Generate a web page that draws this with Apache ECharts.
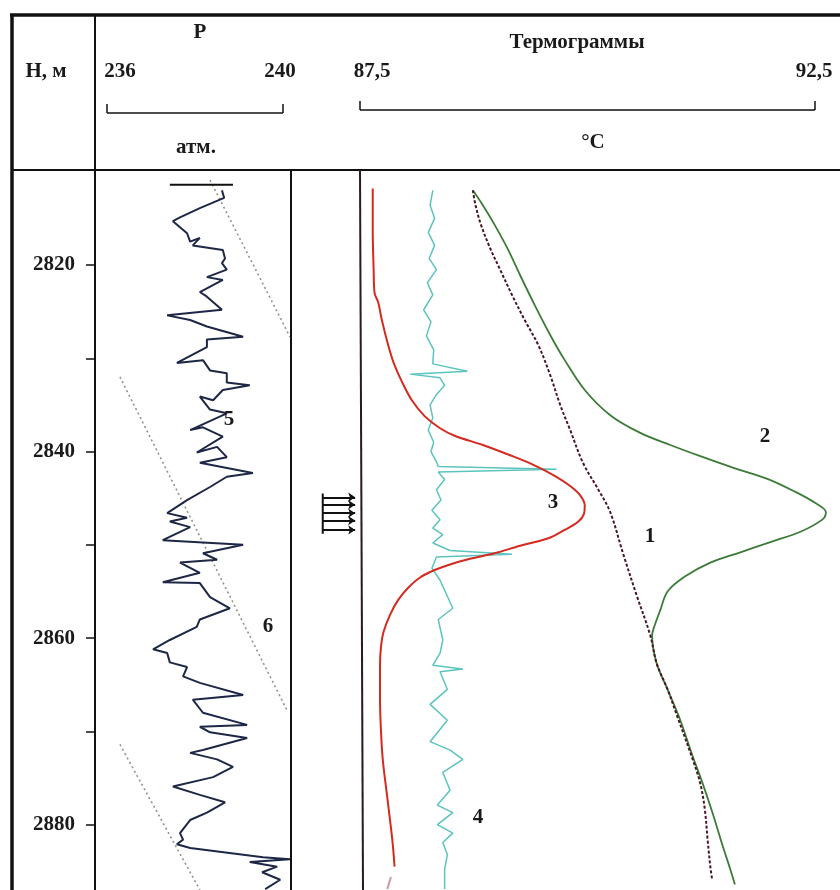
<!DOCTYPE html>
<html><head><meta charset="utf-8">
<script src="https://cdn.jsdelivr.net/npm/echarts@6/dist/echarts.min.js"></script>
<style>html,body{margin:0;padding:0;background:#fff}#c{width:840px;height:890px}</style>
</head><body><div id="c"></div>
<script>
// ---------- data ----------
const depthLabels = [2820, 2840, 2860, 2880];
const depthTicks = [2820, 2830, 2840, 2850, 2860, 2870, 2880];
const pScaleLabels = ['236', '240'];
const tScaleLabels = ['87,5', '92,5'];

// Curve 5 : pressure P, atm
const pDepth = [2812.0,2812.8,2813.9,2814.9,2815.3,2816.6,2817.5,2817.1,2817.9,2818.4,2819.3,2819.8,2820.5,2821.3,2821.6,2822.9,2823.4,2824.8,2825.4,2825.9,2826.6,2827.7,2828.0,2828.8,2830.5,2830.2,2831.3,2831.6,2832.6,2832.9,2833.4,2834.5,2834.1,2835.5,2835.9,2837.7,2837.4,2838.4,2840.1,2839.5,2840.6,2841.2,2842.3,2842.7,2843.8,2845.2,2846.6,2847.1,2847.5,2848.1,2849.5,2850.0,2850.9,2851.6,2851.9,2853.0,2854.0,2854.1,2855.6,2856.8,2858.0,2858.8,2860.2,2861.2,2861.6,2862.6,2863.1,2864.1,2864.8,2866.1,2866.6,2868.0,2869.3,2869.5,2870.1,2870.7,2872.0,2872.3,2873.0,2873.8,2874.9,2875.9,2876.8,2877.6,2878.7,2879.5,2880.9,2881.6,2882.1,2882.5,2883.5,2883.7,2884.0,2884.5,2885.1,2885.9,2886.9];
const pValue = [238.61,238.66,238.11,237.66,237.50,237.82,237.89,238.11,237.95,238.63,238.68,238.61,238.72,238.27,238.63,238.11,238.27,238.61,237.37,237.89,238.27,239.09,238.27,238.27,237.59,238.18,238.34,238.72,238.72,239.24,238.63,238.41,238.11,238.34,238.72,237.89,238.18,238.63,238.04,238.50,238.72,238.11,239.31,238.72,238.34,237.82,237.37,237.82,237.43,237.89,237.27,239.09,238.18,238.50,237.66,238.11,237.27,238.11,238.34,238.79,238.11,238.04,237.43,237.05,237.37,237.43,237.82,237.73,238.11,239.09,237.95,238.18,239.18,238.11,238.34,239.18,238.18,237.89,238.50,238.86,238.41,237.50,238.11,238.68,238.27,237.89,237.66,237.73,237.59,237.89,239.54,240.15,239.24,239.86,239.52,239.93,239.59];
// short mark at top of P track
const pMarkDepth = [2811.4, 2811.4];
const pMarkValue = [237.43, 238.86];
// Lines 6 : pressure trend lines (depth, P)
const trendA = {depth:[2810.9, 2827.7], p:[238.34, 240.15]};
const trendB = {depth:[2832.0, 2867.7], p:[236.30, 240.08]};
const trendC = {depth:[2871.4, 2887.0], p:[236.30, 238.11]};

// Perforation interval depths
const perfDepths = [2844.9, 2845.7, 2846.6, 2847.4, 2848.4];
const perfTop = 2844.5, perfBottom = 2848.8;

// Curve 1 : dashed thermogram, °C
const c1Depth = [2812.0,2813.6,2815.7,2818.2,2820.5,2823.2,2825.9,2828.6,2831.8,2835.0,2837.7,2841.2,2844.1,2846.5,2850.9,2855.4,2859.7,2862.7,2865.5,2868.2,2873.1,2875.6,2878.4,2881.6,2884.5,2885.9];
const c1Temp = [88.74,88.77,88.83,88.93,89.04,89.17,89.31,89.46,89.59,89.70,89.81,89.95,90.12,90.25,90.39,90.54,90.69,90.76,90.88,90.98,91.16,91.24,91.29,91.32,91.35,91.37];

// Curve 2 : green thermogram
const c2Depth = [2812.0,2813.6,2815.7,2818.4,2821.1,2824.3,2827.5,2830.2,2833.4,2836.1,2838.0,2839.3,2840.5,2841.8,2842.9,2844.3,2845.5,2846.5,2847.3,2848.6,2849.7,2850.8,2851.9,2853.4,2855.0,2857.0,2858.6,2859.7,2862.7,2865.5,2868.8,2872.5,2875.7,2878.9,2882.1,2884.8,2886.4];
const c2Temp = [88.74,88.85,88.98,89.13,89.26,89.42,89.59,89.75,89.97,90.25,90.58,90.91,91.24,91.62,91.97,92.28,92.50,92.62,92.58,92.34,92.01,91.68,91.35,91.07,90.88,90.80,90.74,90.71,90.76,90.88,91.02,91.15,91.27,91.38,91.48,91.57,91.62];

// Curve 3 : red thermogram
const c3Depth = [2811.8,2816.3,2820.5,2823.0,2824.0,2825.9,2828.6,2830.5,2832.5,2834.5,2836.2,2837.5,2838.3,2839.3,2840.4,2841.4,2842.6,2843.7,2844.7,2845.8,2846.7,2847.5,2848.4,2849.3,2850.1,2850.9,2851.5,2852.1,2852.7,2853.5,2854.6,2855.9,2857.5,2859.3,2861.0,2862.9,2866.6,2869.8,2873.0,2876.3,2879.5,2882.1,2884.5];
const c3Temp = [87.64,87.64,87.65,87.66,87.70,87.74,87.81,87.87,87.96,88.07,88.21,88.38,88.54,88.85,89.15,89.40,89.64,89.81,89.92,89.97,89.96,89.90,89.75,89.57,89.26,88.98,88.71,88.49,88.32,88.16,88.03,87.92,87.83,87.76,87.73,87.72,87.72,87.73,87.75,87.79,87.83,87.86,87.88];
const c3TailDepth = [2885.6, 2886.9];
const c3TailTemp = [87.84, 87.80];

// Curve 4 : teal thermogram
const c4Depth = [2812.0,2813.6,2815.0,2816.5,2817.9,2819.3,2820.5,2821.9,2823.2,2824.8,2826.1,2827.6,2829.1,2830.6,2831.4,2831.7,2832.1,2832.9,2833.9,2835.0,2836.4,2837.7,2839.0,2840.0,2841.1,2841.6,2841.9,2842.2,2843.0,2844.1,2845.2,2846.3,2847.3,2848.2,2848.9,2849.8,2850.6,2851.0,2851.3,2852.5,2853.8,2856.8,2858.0,2860.2,2861.6,2862.9,2863.3,2863.6,2865.5,2867.1,2868.8,2871.1,2872.0,2873.0,2874.4,2876.3,2877.9,2878.7,2880.0,2880.9,2881.9,2883.2,2884.8,2886.9];
const c4Temp = [88.30,88.27,88.32,88.25,88.32,88.26,88.34,88.24,88.30,88.20,88.28,88.23,88.31,88.30,88.68,88.05,88.38,88.43,88.34,88.27,88.30,88.25,88.31,88.28,88.34,88.36,89.66,88.36,88.43,88.34,88.39,88.29,88.38,88.30,88.41,88.30,88.49,89.17,88.34,88.29,88.38,88.52,88.36,88.41,88.38,88.30,88.63,88.38,88.46,88.27,88.46,88.27,88.49,88.63,88.41,88.49,88.35,88.52,88.35,88.52,88.41,88.46,88.43,88.43];

// ---------- helpers ----------
const zip = (xs, ys) => xs.map((x, i) => [x, ys[i]]);
const SERIF = '"Liberation Serif", "DejaVu Serif", serif';
const FS = 21;

const depthMin = 2810, depthMax = 2887;
const gridTop = 171.7, gridH = 718.3;

function yAx(gi, show) {
  return {
    type: 'value', gridIndex: gi, inverse: true, min: depthMin, max: depthMax,
    axisLine: {show: false}, splitLine: {show: false},
    axisTick: {show: show, inside: false, length: 10, customValues: depthTicks, lineStyle: {color: '#111', width: 1.5}},
    axisLabel: {show: show, margin: 21, customValues: depthLabels, fontFamily: SERIF, fontWeight: 'bold', fontSize: FS, color: '#1a1a1a',
      formatter: v => String(v)}
  };
}
function xAx(gi, min, max) {
  return {type: 'value', gridIndex: gi, min: min, max: max, show: false, splitLine: {show: false}};
}
function lineS(data, xi, color, width, extra) {
  return Object.assign({
    type: 'line', xAxisIndex: xi, yAxisIndex: xi, data: data, showSymbol: false, symbol: 'none',
    lineStyle: {color: color, width: width}, animation: false, silent: true
  }, extra || {});
}
const dotStyle = {lineStyle: {color: '#8e958c', width: 1.6, type: [2, 3]}};

const series = [
  lineS(zip(trendA.p, trendA.depth), 0, '#8e958c', 1.6, dotStyle),
  lineS(zip(trendB.p, trendB.depth), 0, '#8e958c', 1.6, dotStyle),
  lineS(zip(trendC.p, trendC.depth), 0, '#8e958c', 1.6, dotStyle),
  lineS(zip(pValue, pDepth), 0, '#1e2846', 2),
  lineS(zip(pMarkValue, pMarkDepth), 0, '#111', 2),
  // perforation bracket
  lineS([[0.46, perfTop], [0.46, perfBottom]], 1, '#111', 2),
  {
    type: 'lines', coordinateSystem: 'cartesian2d', xAxisIndex: 1, yAxisIndex: 1,
    symbol: ['none', 'arrow'], symbolSize: 7, silent: true, animation: false,
    lineStyle: {color: '#111', width: 2, opacity: 1},
    data: perfDepths.map(d => ({coords: [[0.46, d], [0.93, d]]}))
  },
  lineS(zip(c4Temp, c4Depth), 2, '#5cc4bf', 1.5),
  lineS(zip(c3Temp, c3Depth), 2, '#d42a1f', 2, {smooth: 0.35}),
  lineS(zip(c3TailTemp, c3TailDepth), 2, '#c79aa0', 2),
  lineS(zip(c2Temp, c2Depth), 2, '#3d7b38', 1.8, {smooth: 0.35}),
  lineS(zip(c1Temp, c1Depth), 2, '#4a1525', 2, {smooth: 0.35, lineStyle: {color: '#4a1525', width: 2, type: [3, 2]}})
];

function txt(t, x, y, size) {
  return {type: 'text', x: x, y: y, z: 100, silent: true,
    style: {text: t, fill: '#1a1a1a', font: 'bold ' + (size || FS) + 'px ' + SERIF, align: 'center', verticalAlign: 'middle'}};
}
function ln(x1, y1, x2, y2, w, c) {
  return {type: 'line', z: 100, silent: true, shape: {x1: x1, y1: y1, x2: x2, y2: y2},
    style: {stroke: c || '#111', lineWidth: w}};
}

const graphic = [
  // frame
  ln(10, 15, 840, 15, 3.5),
  ln(12, 14, 12, 890, 3.5),
  ln(95, 14, 95, 890, 2),
  ln(12, 170, 840, 170, 2),
  ln(291, 170, 291, 890, 2),
  ln(360, 170, 363, 890, 2, '#2b1b1b'),
  // header scale bars
  ln(107, 113, 283, 113, 1.5), ln(107, 104, 107, 113, 1.5), ln(283, 104, 283, 113, 1.5),
  ln(360, 110, 815, 110, 1.5), ln(360, 101, 360, 110, 1.5), ln(815, 101, 815, 110, 1.5),
  // header text
  txt('H, м', 46, 72),
  txt('P', 200, 33),
  txt(pScaleLabels[0], 120, 72), txt(pScaleLabels[1], 280, 72),
  txt('атм.', 196, 148),
  txt(tScaleLabels[0], 372, 72), txt(tScaleLabels[1], 814, 72),
  txt('Термограммы', 577, 43),
  txt('°C', 593, 143),
  // curve numbers
  txt('1', 650, 537), txt('2', 765, 437), txt('3', 553, 503),
  txt('4', 478, 818), txt('5', 229, 420), txt('6', 268, 627)
];

const chart = echarts.init(document.getElementById('c'), null, {renderer: 'canvas'});
chart.setOption({
  backgroundColor: '#ffffff',
  animation: false,
  grid: [
    {left: 96, top: gridTop, width: 195, height: gridH},
    {left: 291, top: gridTop, width: 69, height: gridH},
    {left: 360, top: gridTop, width: 480, height: gridH}
  ],
  xAxis: [xAx(0, 235.758, 240.174), xAx(1, 0, 1), xAx(2, 87.5, 92.775)],
  yAxis: [yAx(0, true), yAx(1, false), yAx(2, false)],
  series: series,
  graphic: graphic
});
</script></body></html>
